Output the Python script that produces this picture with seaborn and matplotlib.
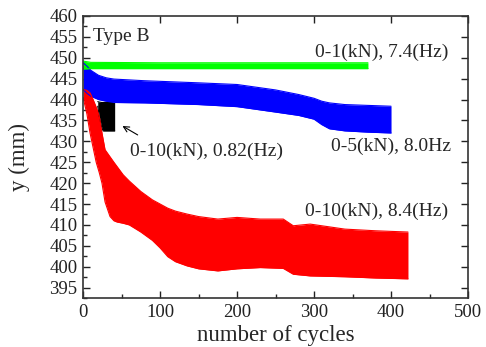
import matplotlib
matplotlib.use("Agg")
import matplotlib.pyplot as plt
import seaborn as sns
from matplotlib.ticker import MultipleLocator

# Envelopes (upper / lower) of the oscillating signals
green_x = [0, 10, 100, 200, 300, 370]
green_hi = [449.2, 448.9, 448.8, 448.8, 448.8, 448.8]
green_lo = [447.3, 447.4, 447.4, 447.4, 447.4, 447.4]

blue_x = [0, 5, 10, 20, 30, 40, 80, 150, 200, 250, 280, 300, 310, 320, 340, 370, 400]
blue_hi = [448.8, 448.0, 447.0, 445.8, 445.2, 444.9, 444.5, 444.0, 443.6, 442.3,
           441.2, 440.3, 439.6, 439.2, 438.8, 438.6, 438.4]
blue_lo = [442.4, 441.5, 440.8, 440.0, 439.6, 439.3, 439.2, 438.8, 438.3, 437.0,
           436.2, 435.3, 434.0, 433.0, 432.5, 432.2, 432.0]

black_x = [19, 21, 24, 26, 30, 41]
black_hi = [439.5, 439.4, 439.3, 439.3, 439.3, 439.3]
black_lo = [438.4, 436.0, 433.5, 432.5, 432.5, 432.5]

red_x = [0, 5, 9, 13, 17, 21, 24.5, 28.5, 35, 40, 44, 52, 60, 75, 90, 100, 110,
         120, 135, 150, 175, 200, 230, 260, 273, 295, 340, 380, 422]
red_hi = [442.4, 442.2, 441.6, 440.0, 438.2, 436.0, 432.0, 428.0, 426.3, 425.0,
          424.0, 422.0, 420.5, 418.0, 416.0, 415.0, 414.0, 413.3, 412.6, 412.0,
          411.4, 411.8, 411.4, 411.4, 409.8, 410.2, 409.0, 408.6, 408.3]
red_lo = [440.5, 436.5, 432.0, 428.5, 425.0, 422.5, 420.0, 415.5, 412.0, 411.0,
          410.7, 410.4, 410.0, 408.3, 406.3, 404.5, 402.4, 401.2, 400.2, 399.5,
          399.0, 399.5, 399.8, 399.6, 398.2, 397.8, 397.6, 397.3, 397.1]

labels = ["0-1(kN), 7.4(Hz)", "0-5(kN), 8.0Hz", "0-10(kN), 0.82(Hz)", "0-10(kN), 8.4(Hz)"]

sns.set_style("ticks")
plt.rcParams['font.family'] = ['Liberation Serif', 'DejaVu Serif']

fig = plt.figure(figsize=(4.86, 3.47), dpi=100)
ax = fig.add_axes([0.171, 0.141, 0.792, 0.813])

bands = [
    (black_x, black_hi, black_lo, "black"),
    (blue_x, blue_hi, blue_lo, "#0000ff"),
    (red_x, red_hi, red_lo, "#ff0000"),
    (green_x, green_hi, green_lo, "#00ff00"),
]
for xs, hi, lo, col in bands:
    ax.fill_between(xs, lo, hi, color=col, linewidth=0)
    sns.lineplot(x=xs, y=hi, ax=ax, color=col, linewidth=0.8)
    sns.lineplot(x=xs, y=lo, ax=ax, color=col, linewidth=0.8)

ax.set_xlim(0, 500)
ax.set_ylim(392.5, 460)
ax.xaxis.set_major_locator(MultipleLocator(100))
ax.xaxis.set_minor_locator(MultipleLocator(50))
ax.yaxis.set_major_locator(MultipleLocator(5))
ax.yaxis.set_minor_locator(MultipleLocator(2.5))
ax.tick_params(which='major', direction='in', top=True, right=True,
               length=5, width=1, labelsize=13.5, colors='#222222', pad=4)
ax.tick_params(which='minor', direction='in', top=False, right=False,
               length=3, width=1)
for sp in ax.spines.values():
    sp.set_linewidth(1.2)
    sp.set_color('#333333')

ax.set_xlabel("number of cycles", fontsize=16.5, labelpad=3)
ax.set_ylabel("y (mm)", fontsize=16.5, labelpad=14)

ax.text(13, 455.2, "Type B", fontsize=14, ha='left', va='center')
ax.text(474, 451.2, labels[0], fontsize=14, ha='right', va='center')
ax.text(478, 428.8, labels[1], fontsize=14, ha='right', va='center')
ax.text(61, 427.6, labels[2], fontsize=14, ha='left', va='center')
ax.text(474, 413.3, labels[3], fontsize=14, ha='right', va='center')
ax.annotate("", xy=(48, 434), xytext=(74, 431.2),
            arrowprops=dict(arrowstyle='->', color='black', lw=0.8))

fig.savefig("out.png", dpi=100)
